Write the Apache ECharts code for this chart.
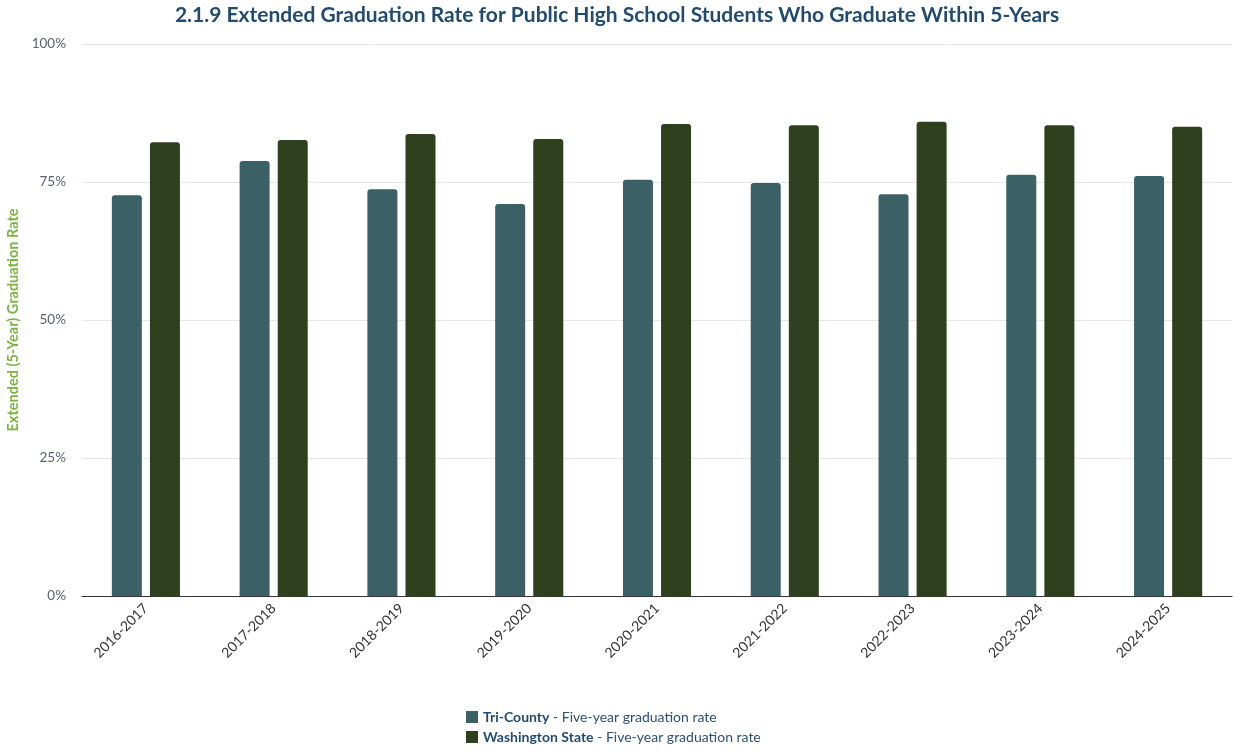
<!DOCTYPE html>
<html>
<head>
<meta charset="utf-8">
<script src="https://cdn.jsdelivr.net/npm/echarts@6/dist/echarts.min.js"></script>
<style>
html,body{margin:0;padding:0;background:#fff;}
#chart{width:1234px;height:754px;}
</style>
</head>
<body>
<div id="chart"></div>
<script>
const categories = ['2016-2017','2017-2018','2018-2019','2019-2020','2020-2021','2021-2022','2022-2023','2023-2024','2024-2025'];
const triCounty = [72.6, 78.8, 73.7, 71.0, 75.4, 74.8, 72.8, 76.3, 76.1];
const washington = [82.2, 82.6, 83.7, 82.8, 85.5, 85.3, 85.9, 85.3, 85.0];
const seriesNames = ['Tri-County', 'Washington State'];
const legendSuffix = ' - Five-year graduation rate';

const chart = echarts.init(document.getElementById('chart'));
const font = 'Lato, "Noto Sans", sans-serif';
chart.setOption({
  animation: false,
  title: {
    text: '2.1.9 Extended Graduation Rate for Public High School Students Who Graduate Within 5-Years',
    left: 'center',
    top: 0,
    textStyle: { fontFamily: font, fontSize: 21, fontWeight: 'bold', color: '#234b6e' }
  },
  grid: { left: 82, right: 2, top: 44, bottom: 158, containLabel: false, outerBoundsMode: 'none' },
  legend: {
    orient: 'vertical',
    left: 461,
    top: 705,
    itemWidth: 12,
    itemHeight: 12,
    itemGap: 6,
    icon: 'rect',
    formatter: function (name) { return '{b|' + name + '}{r|' + legendSuffix + '}'; },
    textStyle: {
      fontFamily: font,
      rich: {
        b: { fontFamily: font, fontSize: 14, fontWeight: 'bold', color: '#234b6e' },
        r: { fontFamily: font, fontSize: 14, color: '#2f4f6e' }
      }
    }
  },
  xAxis: {
    type: 'category',
    data: categories,
    axisTick: { show: false },
    axisLine: { lineStyle: { color: '#333', width: 1 } },
    axisLabel: { rotate: 45, margin: 10, fontFamily: font, fontSize: 14, color: '#333' }
  },
  yAxis: {
    type: 'value',
    min: 0,
    max: 100,
    interval: 25,
    name: 'Extended (5-Year) Graduation Rate',
    nameLocation: 'middle',
    nameGap: 58,
    nameTextStyle: { fontFamily: font, fontSize: 14.5, fontWeight: 'bold', color: '#7cb342' },
    axisLabel: { formatter: '{value}%', margin: 16, fontFamily: font, fontSize: 13.5, color: '#5a6270' },
    splitLine: { lineStyle: { color: '#e6e6e6' } },
    axisLine: { show: false },
    axisTick: { show: false }
  },
  series: [
    {
      name: seriesNames[0], type: 'bar', data: triCounty,
      barWidth: 30, barGap: '27%',
      itemStyle: { color: '#3b6066', borderRadius: [3, 3, 0, 0] }
    },
    {
      name: seriesNames[1], type: 'bar', data: washington,
      barWidth: 30,
      itemStyle: { color: '#2e401e', borderRadius: [3, 3, 0, 0] }
    }
  ]
});
</script>
</body>
</html>
